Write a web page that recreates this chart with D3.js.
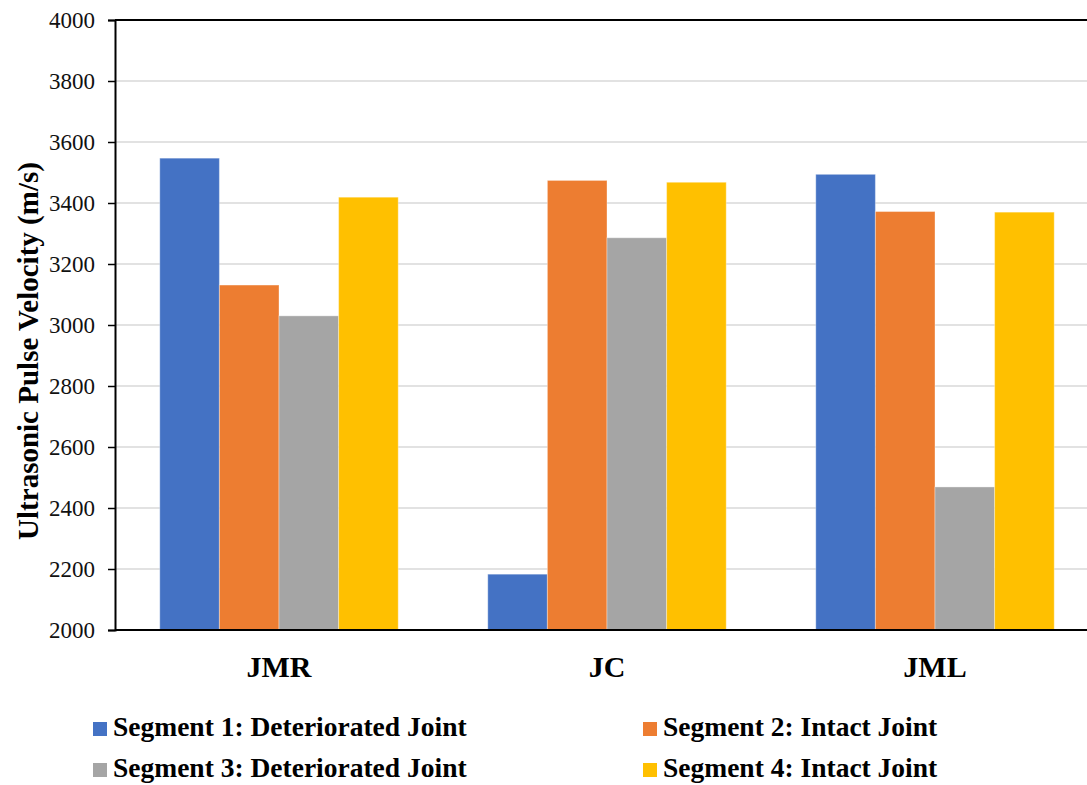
<!DOCTYPE html>
<html>
<head>
<meta charset="utf-8">
<script src="https://cdn.jsdelivr.net/npm/d3@7"></script>
<style>
  html, body { margin: 0; padding: 0; background: #fff; }
  svg { display: block; }
  svg text { font-family: "Liberation Serif", "Times New Roman", serif; }
</style>
</head>
<body>
<svg id="chart" width="1087" height="785"></svg>
<script>
// Ultrasonic pulse velocity per joint and segment
const categories = ["JMR", "JC", "JML"];
const seriesNames = [
  "Segment 1: Deteriorated Joint",
  "Segment 2: Intact Joint",
  "Segment 3: Deteriorated Joint",
  "Segment 4: Intact Joint"
];
const segment1 = [3547, 2183, 3494];
const segment2 = [3131, 3474, 3372];
const segment3 = [3030, 3286, 2469];
const segment4 = [3419, 3468, 3370];
const yTicks = [2000, 2200, 2400, 2600, 2800, 3000, 3200, 3400, 3600, 3800, 4000];
const colors = ["#4472C4", "#ED7D31", "#A5A5A5", "#FFC000"];

const seriesValues = [segment1, segment2, segment3, segment4];
const serif = "'Liberation Serif', 'Times New Roman', serif";

const svg = d3.select("#chart");
const plot = { left: 115, right: 1099, top: 20, bottom: 630 };

const x = d3.scaleBand()
  .domain(categories)
  .range([plot.left, plot.right])
  .paddingInner(0.273)
  .paddingOuter(0.1365);

const xSub = d3.scaleBand()
  .domain(d3.range(seriesNames.length))
  .range([0, x.bandwidth()]);

const y = d3.scaleLinear()
  .domain([2000, 4000])
  .range([plot.bottom, plot.top]);

// horizontal gridlines
svg.append("g")
  .selectAll("line")
  .data(yTicks.filter(t => t > 2000 && t < 4000))
  .join("line")
  .attr("x1", plot.left)
  .attr("x2", plot.right)
  .attr("y1", d => y(d))
  .attr("y2", d => y(d))
  .attr("stroke", "#d9d9d9")
  .attr("stroke-width", 1.5);

// bars
const groups = svg.append("g")
  .selectAll("g")
  .data(categories)
  .join("g")
  .attr("transform", d => `translate(${x(d)},0)`);

groups.selectAll("rect")
  .data((c, ci) => seriesValues.map((vals, si) => ({ si, v: vals[ci] })))
  .join("rect")
  .attr("x", d => xSub(d.si))
  .attr("width", xSub.bandwidth())
  .attr("y", d => y(d.v))
  .attr("height", d => y(2000) - y(d.v))
  .attr("fill", d => colors[d.si])
  .attr("stroke", "#ffffff")
  .attr("stroke-opacity", 0.35)
  .attr("stroke-width", 1);

// top border of the plot area
svg.append("line")
  .attr("x1", plot.left).attr("x2", plot.right)
  .attr("y1", y(4000)).attr("y2", y(4000))
  .attr("stroke", "#000").attr("stroke-width", 2);

// y axis
const yAxis = d3.axisLeft(y)
  .tickValues(yTicks)
  .tickSize(7)
  .tickPadding(13)
  .tickFormat(d3.format("d"));

const gy = svg.append("g")
  .attr("transform", `translate(${plot.left},0)`)
  .call(yAxis)
  .attr("font-family", serif)
  .attr("font-size", 23);
gy.select(".domain").attr("stroke", "#000").attr("stroke-width", 2);
gy.selectAll(".tick line").attr("stroke", "#000").attr("stroke-width", 1.5);
gy.selectAll(".tick text")
  .attr("fill", "#111")
  .style("font-family", serif)
  .style("font-size", "23px")
  .style("font-weight", "normal");

// x axis baseline
svg.append("line")
  .attr("x1", plot.left).attr("x2", plot.right)
  .attr("y1", plot.bottom).attr("y2", plot.bottom)
  .attr("stroke", "#000").attr("stroke-width", 2);

// category labels
svg.append("g")
  .selectAll("text")
  .data(categories)
  .join("text")
  .attr("x", d => x(d) + x.bandwidth() / 2)
  .attr("y", 677)
  .attr("text-anchor", "middle")
  .attr("font-weight", "bold")
  .attr("font-size", 30)
  .attr("fill", "#000")
  .text(d => d);

// y axis title
svg.append("text")
  .attr("transform", `translate(38,351) rotate(-90)`)
  .attr("text-anchor", "middle")
  .attr("font-weight", "bold")
  .attr("font-size", 29)
  .attr("fill", "#000")
  .text("Ultrasonic Pulse Velocity (m/s)");

// legend, two columns by two rows
const legendPos = [
  { x: 93, y: 736 }, { x: 643, y: 736 },
  { x: 93, y: 777 }, { x: 643, y: 777 }
];
const legend = svg.append("g")
  .selectAll("g")
  .data(seriesNames)
  .join("g")
  .attr("transform", (d, i) => `translate(${legendPos[i].x},${legendPos[i].y})`);

legend.append("rect")
  .attr("x", 0)
  .attr("y", -14)
  .attr("width", 14)
  .attr("height", 14)
  .attr("fill", (d, i) => colors[i]);

legend.append("text")
  .attr("x", 20)
  .attr("y", 0)
  .attr("font-weight", "bold")
  .attr("font-size", 27.5)
  .attr("fill", "#000")
  .text(d => d);
</script>
</body>
</html>
